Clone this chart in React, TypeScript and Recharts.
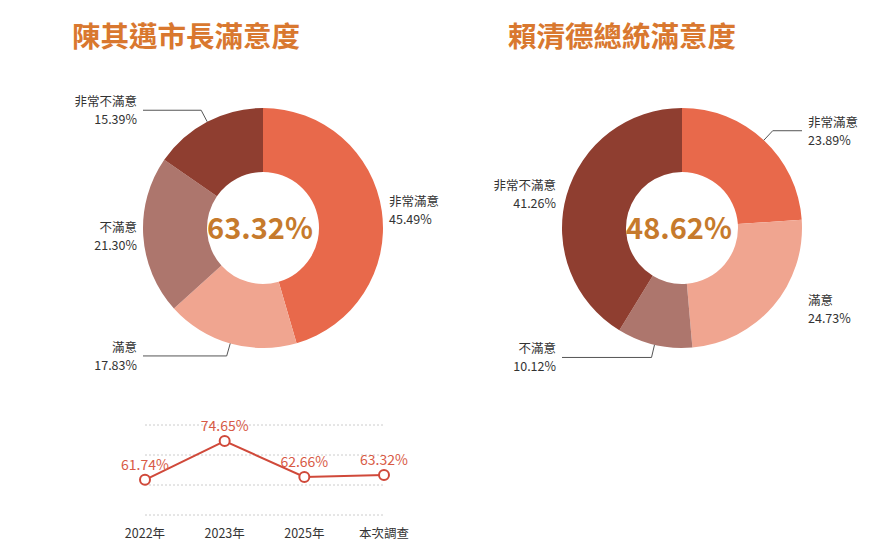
import { PieChart, Pie, Cell, LineChart, Line, XAxis, YAxis, CartesianGrid, LabelList } from "recharts";

const levels = ["非常滿意", "滿意", "不滿意", "非常不滿意"];
const colors = ["#e8694b", "#f0a590", "#ad766d", "#8f3e30"];
const mayorValues = [45.49, 17.83, 21.3, 15.39];
const presidentValues = [23.89, 24.73, 10.12, 41.26];
const mayorTotal = "63.32%";
const presidentTotal = "48.62%";

const years = ["2022年", "2023年", "2025年", "本次調查"];
const trendValues = [61.74, 74.65, 62.66, 63.32];

const font = "'Noto Sans CJK TC', 'Noto Sans', sans-serif";
const RAD = Math.PI / 180;

function renderLabel(p: any) {
  const { cx, cy, outerRadius, midAngle, name, value } = p;
  const cos = Math.cos(-midAngle * RAD);
  const sin = Math.sin(-midAngle * RAD);
  const right = cos >= 0;
  const textX = right ? cx + outerRadius + 6 : cx - outerRadius - 6;
  const anchor = right ? "start" : "end";
  let y: number;
  let path: string | null = null;
  if (Math.abs(cos) < 0.7) {
    const x0 = cx + outerRadius * cos;
    const y0 = cy + outerRadius * sin;
    const x1 = cx + (outerRadius + 13) * cos;
    y = cy + (outerRadius + 13) * sin;
    const x2 = right ? cx + outerRadius : cx - outerRadius;
    path = `M${x0},${y0}L${x1},${y}L${x2},${y}`;
  } else {
    y = cy + (outerRadius + 5) * sin;
  }
  return (
    <g>
      {path && <path d={path} stroke="#555" fill="none" strokeWidth={1} />}
      <text x={textX} y={y - 4} textAnchor={anchor} fontSize={12.5} fill="#333" fontFamily={font}>
        {name}
      </text>
      <text x={textX} y={y + 14} textAnchor={anchor} fontSize={12.5} fill="#333" fontFamily={font}>
        {value.toFixed(2)}%
      </text>
    </g>
  );
}

function Donut({ values, total }: { values: number[]; total: string }) {
  const data = levels.map((name, i) => ({ name, value: values[i] }));
  return (
    <PieChart width={420} height={330}>
      <Pie
        data={data}
        dataKey="value"
        nameKey="name"
        cx={210}
        cy={165}
        innerRadius={56}
        outerRadius={120}
        startAngle={90}
        endAngle={-270}
        stroke="none"
        label={renderLabel}
        labelLine={false}
        isAnimationActive={false}
      >
        {data.map((d, i) => (
          <Cell key={d.name} fill={colors[i]} />
        ))}
      </Pie>
      <text x={212} y={181} textAnchor="middle" fontSize={29} fontWeight={700} fill="#c67a2c" fontFamily={font}>
        {total}
      </text>
    </PieChart>
  );
}

export default function App() {
  const trend = years.map((year, i) => ({ year, value: trendValues[i] }));
  const title = { position: "absolute" as const, top: 14, fontSize: 28.5, fontWeight: 700, color: "#d9782f", fontFamily: font };
  return (
    <div style={{ position: "absolute", left: 0, top: 0, width: 880, height: 551, background: "#fff" }}>
      <div style={{ ...title, left: 72 }}>陳其邁市長滿意度</div>
      <div style={{ ...title, left: 508 }}>賴清德總統滿意度</div>
      <div style={{ position: "absolute", left: 48, top: 58 }}>
        <Donut values={mayorValues} total={mayorTotal} />
      </div>
      <div style={{ position: "absolute", left: 467, top: 58 }}>
        <Donut values={presidentValues} total={presidentTotal} />
      </div>
      <div style={{ position: "absolute", left: 100, top: 400 }}>
        <LineChart width={330} height={150} data={trend} margin={{ top: 25, right: 46, bottom: 5, left: 45 }}>
          <CartesianGrid vertical={false} stroke="#ccc" strokeDasharray="2 2" />
          <XAxis
            dataKey="year"
            scale="point"
            height={30}
            axisLine={false}
            tickLine={false}
            tick={{ fontSize: 12.5, fill: "#333", fontFamily: font }}
            dy={6}
          />
          <YAxis hide domain={[50, 80]} ticks={[50, 60, 70, 80]} />
          <Line
            dataKey="value"
            stroke="#d0493a"
            strokeWidth={2}
            dot={{ r: 5, fill: "#fff", stroke: "#d0493a", strokeWidth: 2 }}
            isAnimationActive={false}
          >
            <LabelList
              dataKey="value"
              position="top"
              offset={10}
              formatter={(v: any) => `${v}%`}
              style={{ fontSize: 14, fill: "#d85a45", fontFamily: font }}
            />
          </Line>
        </LineChart>
      </div>
    </div>
  );
}
